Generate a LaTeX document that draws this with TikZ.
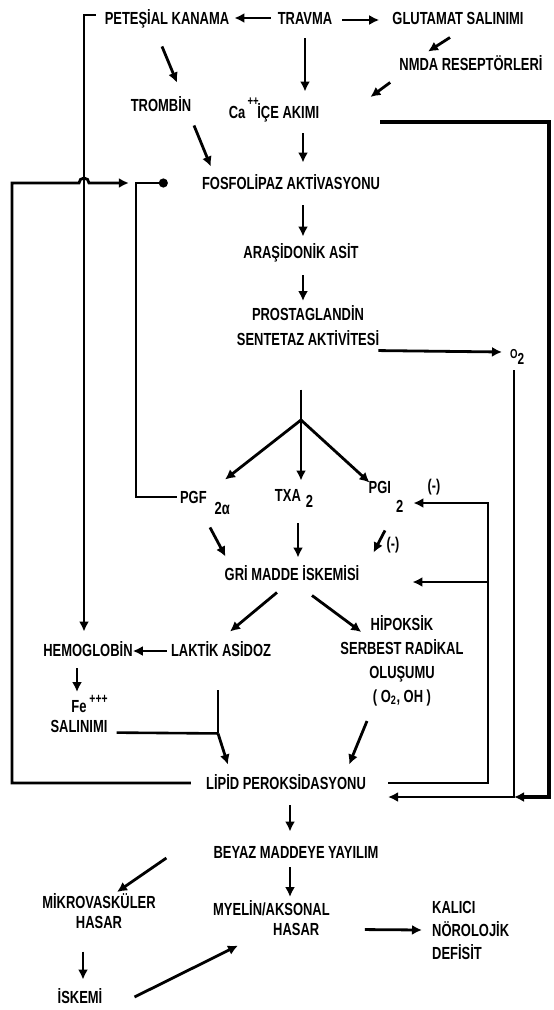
\documentclass[tikz,border=0pt]{standalone}
\usepackage{fontspec}
\setmainfont{Liberation Sans}[FakeStretch=0.74]
\usetikzlibrary{arrows.meta,calc}

\begin{document}
\begin{tikzpicture}[
  x=1pt,
  y=-1pt,
  >={Latex[length=10pt,width=10pt]},
  lbl/.style={inner sep=0pt, text height=12.5pt, text depth=0pt, font=\bfseries\fontsize{17.5}{24}\selectfont},
  blk/.style={inner sep=0pt, align=center, font=\bfseries\fontsize{17.5}{#1}\selectfont},
  sgn/.style={inner sep=0pt, font=\bfseries\fontsize{17}{17}\selectfont},
  arr/.style={draw=black, line width=2.8pt, ->},
  link/.style={draw=black, line width=2.6pt},
  inhib/.style={draw=black, line width=2.4pt, -{Circle[length=9pt]}}
]

% Frame: one unit is one pixel of the 554x1010 sheet, y runs downwards.
\useasboundingbox (0,0) rectangle (554,1010);

% Top row.
\node[lbl] (travma)   at (305,18) {TRAVMA};
\node[lbl] (petesial) at (167,18) {PETEŞİAL KANAMA};
\node[lbl] (glutamat) at (458,18) {GLUTAMAT SALINIMI};
\node[lbl] (nmda)     at (471,64) {NMDA RESEPTÖRLERİ};
\node[lbl] (trombin)  at (161,105) {TROMBİN};
\node[lbl] (ca)       at (274,112) {Ca\rlap{\raisebox{13pt}[0pt][0pt]{\fontsize{13}{13}\selectfont\,++}}\hspace{12pt}İÇE AKIMI};

% Main column.
\node[lbl] (fosfo)  at (291,183) {FOSFOLİPAZ AKTİVASYONU};
\node[lbl] (arasid) at (301,252) {ARAŞİDONİK ASİT};
\node[blk=25, anchor=north] (prosta) at (308,305) {PROSTAGLANDİN\\SENTETAZ AKTİVİTESİ};
\node[lbl, anchor=west] (o2) at (510,352) {\fontsize{13}{13}\selectfont O\raisebox{-6pt}{\fontsize{16}{16}\selectfont 2}};

% Prostaglandins.
\node[lbl] (pgf) at (205,497) {PGF\hspace{8pt}\raisebox{-11pt}[0pt][0pt]{2α}};
\node[lbl] (txa) at (294,495) {TXA\hspace{5pt}\raisebox{-6pt}[0pt][0pt]{2}};
\node[lbl] (pgi) at (386,487) {PGI\hspace{5pt}\raisebox{-19pt}[0pt][0pt]{2}};
\node[sgn] (neg1) at (434,487) {(-)};
\node[sgn] (neg2) at (393,545) {(-)};

% Ischaemia and its products.
\node[lbl] (gri)    at (292,574) {GRİ MADDE İSKEMİSİ};
\node[lbl] (laktik) at (221,650) {LAKTİK ASİDOZ};
\node[lbl] (hemo)   at (88,650) {HEMOGLOBİN};
\node[blk=24, anchor=north] (hipo) at (402,615) {HİPOKSİK\\SERBEST RADİKAL\\OLUŞUMU\\( O\textsubscript{2}, OH )};
\node[blk=20, anchor=north] (fe) at (79,700) {Fe\rlap{\raisebox{9pt}[0pt][0pt]{\,\fontsize{14}{14}\selectfont+++}}\\SALINIMI};
\node[lbl] (lipid)  at (286,783) {LİPİD PEROKSİDASYONU};

% Bottom.
\node[blk=20, anchor=north] (mikro) at (99,893) {MİKROVASKÜLER\\HASAR};
\node[lbl] (beyaz) at (296,852) {BEYAZ MADDEYE YAYILIM};
\node[blk=20, anchor=north west, align=left] (myelin) at (213,900) {MYELİN/AKSONAL\\\hspace*{60pt}HASAR};
\node[lbl] (iskemi) at (80,997) {İSKEMİ};
\node[blk=23, anchor=west, align=left] (kalici) at (432,930) {KALICI\\NÖROLOJİK\\DEFİSİT};

% Helper points.
\coordinate (merge) at (514,797);
\coordinate (brk)   at (488,503);
\coordinate (lft)   at (12,183);
\coordinate (split) at (301,420);
\coordinate (jn)    at ($(laktik.south)+(-3,77)$);

% Trauma branches.
\draw[arr] ($(travma.west)+(-7,0)$) -- ($(petesial.east)+(5,0)$);
\draw[arr] ($(travma.east)+(10,2)$) -- ($(glutamat.west)+(-13,2)$);
\draw[arr] ($(glutamat.south)+(-8,13)$) -- ($(nmda.north)+(-43,-6)$);
\draw[arr] ($(nmda.south west)+(-9,12)$) -- ($(ca.east)+(51,-15)$);
\draw[arr] ($(travma.south)+(0,14)$) -- ($(travma.south |- ca.north)+(0,-14)$);
\draw[arr] ($(petesial.south)+(-5,22)$) -- ($(trombin.north)+(16,-16)$);
\draw[arr] ($(trombin.south)+(33,14)$) -- ($(fosfo.north west)+(9,-10)$);

% Calcium influx runs round the right edge into the O2 line.
\draw[arr, line width=3.4pt] ($(ca.east)+(61,10)$) -| ($(merge)+(35,0)$) -- (merge);

% Main cascade.
\draw[arr] ($(ca.south -| travma.south)+(-2,15)$) -- ($(fosfo.north -| travma.south)+(-2,-14)$);
\draw[arr] ($(fosfo.south -| travma.south)+(-2,16)$) -- ($(arasid.north -| travma.south)+(-2,-9)$);
\draw[arr] ($(arasid.south -| travma.south)+(-2,17)$) -- ($(prosta.north -| travma.south)+(-2,-4)$);
\draw[arr] ($(prosta.south east)+(-1,5)$) -- ($(o2.west)+(-8,0)$);
\draw[arr] ($(merge |- o2.south)+(0,12)$) -- (merge) -- ($(lipid.east)+(22,14)$);

% Feedback of lipid peroxidation, (-) on PGI2 and on grey matter.
\draw[arr] ($(lipid.east)+(22,0)$) -| (brk) -- ($(pgi.east)+(10,16)$);
\draw[arr] ($(brk |- gri.east)+(0,8)$) -- ($(gri.east)+(53,8)$);

% PGF2a inhibits the phospholipase, lipid peroxidation drives it.
\draw[inhib] ($(pgf.west)+(-3,0)$) -| ($(fosfo.west)+(-66,0)$) -- ($(fosfo.west)+(-34,0)$);
\draw[arr] ($(lipid.west)+(-15,0)$) -| (lft) -- ($(lft)+(67,0)$)
  arc[start angle=180, end angle=0, radius=5pt] -- ($(fosfo.west)+(-73,0)$);
\draw[arr] ($(petesial.west)+(-9,-3)$) -| ($(hemo.north)+(-4,-12)$);

% Split into the three prostaglandins.
\draw[link, line width=2.8pt] ($(prosta.south -| split)+(0,44)$) -- (split);
\draw[arr] (split) -- ($(pgf.north)+(20,-11)$);
\draw[arr] (split) -- ($(split |- txa.north)+(0,-8)$);
\draw[arr] (split) -- ($(pgi.north west)+(1,2)$);

% Into grey matter ischaemia.
\draw[arr] ($(pgf.south)+(5,24)$) -- ($(gri.north west)+(1,-11)$);
\draw[arr] ($(txa.south -| split)+(-3,22)$) -- ($(gri.north -| split)+(-3,-10)$);
\draw[arr] ($(pgi.south)+(-1,37)$) -- ($(gri.north east)+(14,-15)$);

% Out of grey matter ischaemia.
\draw[arr] ($(gri.south)+(-15,12)$) -- ($(laktik.north)+(9,-12)$);
\draw[arr] ($(gri.south)+(20,15)$) -- ($(hipo.north west)+(21,17)$);
\draw[arr] ($(laktik.west)+(-4,1)$) -- ($(hemo.east)+(0,1)$);
\draw[arr] ($(hemo.south)+(-11,12)$) -- ($(fe.north)+(-2,-8)$);

% Towards lipid peroxidation.
\draw[link] ($(laktik.south)+(-3,34)$) -- (jn);
\draw[link] ($(fe.south east)+(9,0)$) -- (jn);
\draw[arr] (jn) -- ($(lipid.north west)+(22,-12)$);
\draw[arr] ($(hipo.south)+(-35,15)$) -- ($(lipid.north east)+(-17,-12)$);

% White matter damage.
\draw[arr] ($(lipid.south)+(4,16)$) -- ($(lipid.south |- beyaz.north)+(4,-14)$);
\draw[arr] ($(beyaz.west)+(-47,6)$) -- ($(mikro.north)+(18,-1)$);
\draw[arr] ($(beyaz.south)+(-6,9)$) -- ($(beyaz.south |- myelin.north)+(-6,-3)$);
\draw[arr] ($(mikro.south)+(-16,23)$) -- ($(mikro.south |- iskemi.north)+(-16,-11)$);
\draw[arr] ($(iskemi.east)+(32,0)$) -- ($(myelin.south west)+(25,10)$);
\draw[arr] ($(myelin.south east)+(35,-6)$) -- ($(kalici.west)+(-10,0)$);
\end{tikzpicture}
\end{document}
